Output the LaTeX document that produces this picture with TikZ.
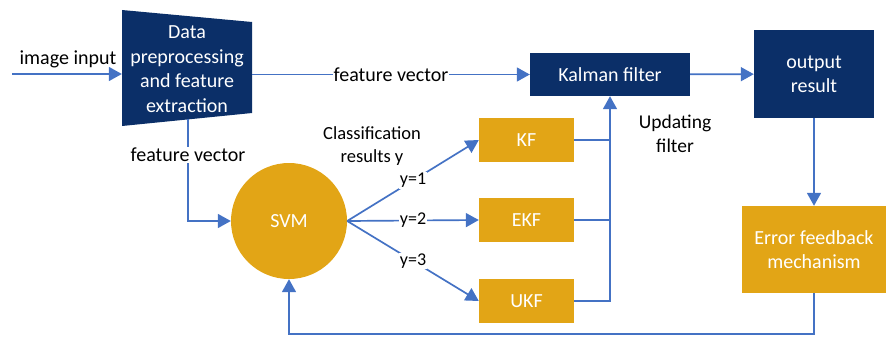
\documentclass[tikz,border=0pt]{standalone}
\usepackage{fontspec}
\setmainfont{Carlito}
\usetikzlibrary{arrows.meta}
\definecolor{navy}{RGB}{11,47,104}
\definecolor{gold}{RGB}{226,165,22}
\definecolor{lineblue}{RGB}{68,114,196}
\begin{document}
\begin{tikzpicture}[x=1pt,y=-1pt,
  font=\fontsize{20}{24}\selectfont,
  arr/.style={draw=lineblue, line width=1.7pt, -{Triangle[length=13pt,width=14pt]}},
  ln/.style={draw=lineblue, line width=1.7pt},
  navybox/.style={fill=navy, text=white, align=center, inner sep=0pt},
  goldbox/.style={fill=gold, text=white, align=center, inner sep=0pt},
  lbl/.style={fill=white, inner sep=1pt, align=center}]
\useasboundingbox (0,0) rectangle (886,337);
% trapezoid
\fill[navy] (122,10) -- (252,22) -- (252,113) -- (122,126) -- cycle;
\node[text=white, align=center, minimum width=130pt, minimum height=116pt, inner sep=0pt,
      font=\fontsize{20}{24.5}\selectfont] (dp) at (187,69) {Data\\preprocessing\\and feature\\extraction};
% boxes
\node[navybox, minimum width=160pt, minimum height=43pt] (kal) at (610,74.5) {Kalman filter};
\node[navybox, minimum width=120pt, minimum height=88pt] (out) at (814,74) {output\\result};
\node[goldbox, minimum width=144pt, minimum height=87pt] (err) at (814,249.5) {Error feedback\\mechanism};
\node[goldbox, circle, minimum size=116pt] (svm) at (289,221) {SVM};
\node[goldbox, minimum width=95pt, minimum height=44pt] (kf) at (526.5,140) {KF};
\node[goldbox, minimum width=95pt, minimum height=44pt] (ekf) at (526.5,220) {EKF};
\node[goldbox, minimum width=95pt, minimum height=44pt] (ukf) at (526.5,301) {UKF};
% connectors
\coordinate (in) at (12,74);
\draw[arr] (in) -- (in -| dp.west);
\node (imglbl) at (68,59) {image input};
\draw[arr] (dp.east |- kal) -- (kal.west) node[lbl, pos=0.5] (fv1) {feature vector};
\draw[arr] (kal) -- (out);
\draw[arr] (out) -- (err);
\coordinate (fb) at (814,334);
\draw[arr] (err.south) -- (fb) -| (svm.south);
\coordinate (dpb) at (188,119);
\draw[arr] (dpb) |- (svm.west);
\node[lbl] (fv2) at (188,155) {feature vector};
\draw[arr] (svm.east) -- (kf.west) node[lbl, midway, font=\fontsize{18}{22}\selectfont] (y1) {y=1};
\draw[arr] (svm.east) -- (ekf.west) node[lbl, midway, font=\fontsize{18}{22}\selectfont] (y2) {y=2};
\draw[arr] (svm.east) -- (ukf.west) node[lbl, midway, font=\fontsize{18}{22}\selectfont] (y3) {y=3};
\draw[ln] (kf.east) -- (kf.east -| kal.south);
\draw[ln] (ekf.east) -- (ekf.east -| kal.south);
\draw[arr] (ukf.east) -| (kal.south);
\node[align=center, font=\fontsize{18.5}{23}\selectfont] (cls) at (372,146) {Classification\\results y};
\node[align=center, font=\fontsize{19.5}{24}\selectfont] (upd) at (675,134) {Updating\\filter};
\end{tikzpicture}
\end{document}
